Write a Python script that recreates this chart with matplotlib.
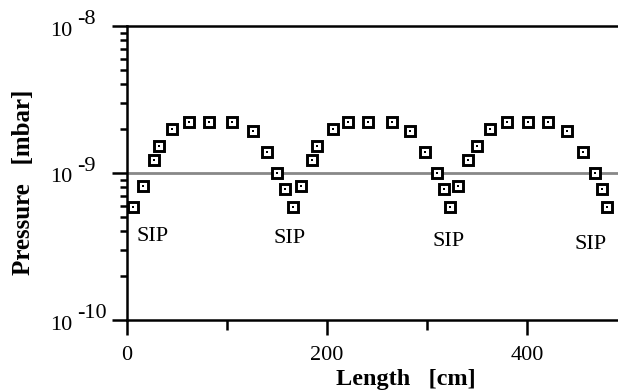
import matplotlib.pyplot as plt
import numpy as np

# readings
length_cm = [6, 16, 27, 32, 45, 62, 82, 105, 126, 140, 150, 158, 166, 174, 185, 190,
             206, 221, 241, 265, 283, 298, 310, 317, 323, 331, 341, 350, 363, 380,
             401, 421, 440, 456, 468, 475, 480]
pressure = [5.9e-10, 8.2e-10, 1.23e-9, 1.53e-9, 2.0e-9, 2.22e-9, 2.22e-9, 2.22e-9,
            1.93e-9, 1.39e-9, 1.0e-9, 7.8e-10, 5.9e-10, 8.2e-10, 1.23e-9, 1.53e-9,
            2.0e-9, 2.22e-9, 2.22e-9, 2.22e-9, 1.93e-9, 1.39e-9, 1.0e-9, 7.8e-10,
            5.9e-10, 8.2e-10, 1.23e-9, 1.53e-9, 2.0e-9, 2.22e-9, 2.22e-9, 2.22e-9,
            1.93e-9, 1.39e-9, 1.0e-9, 7.8e-10, 5.9e-10]
sip_x = [26, 163, 322, 464]
sip_y = [3.44e-10, 3.34e-10, 3.18e-10, 3.04e-10]
ref_level = 1e-9
y_exps = [-8, -9, -10]
x_ticks = [0, 200, 400]

plt.rcParams['font.family'] = ['Liberation Serif', 'DejaVu Serif']

fig = plt.figure(figsize=(6.18, 3.91), dpi=100)
ax = fig.add_axes([127/618, 71/391, 491/618, 294/391])
ax.set_yscale('log')
ax.set_xlim(0, 491)
ax.set_ylim(1e-10, 1e-8)

ax.axhline(ref_level, color='#888888', lw=2, zorder=1)
ax.plot(length_cm, pressure, ls='none', marker='s', ms=6.5, mfc='white',
        mec='black', mew=2.1, zorder=3)
ax.plot(length_cm, pressure, ls='none', marker='s', ms=1.8, mfc='black',
        mec='black', mew=0, zorder=4)

for x, y in zip(sip_x, sip_y):
    ax.text(x, y, 'SIP', ha='center', va='baseline', fontsize=16)

for side in ['left', 'bottom', 'top']:
    ax.spines[side].set_linewidth(1.8)
ax.spines['right'].set_visible(False)

ax.set_xticks(x_ticks)
ax.set_xticklabels([str(v) for v in x_ticks], fontsize=16)
ax.set_xticks([100, 300], minor=True)
ax.tick_params(axis='x', which='major', length=11, width=1.8, pad=8)
ax.tick_params(axis='x', which='minor', length=7, width=1.8)
ax.tick_params(axis='y', which='major', length=11, width=1.8)
ax.tick_params(axis='y', which='minor', length=5, width=1.8)
ax.set_yticklabels([], minor=True)
ax.set_yticks([10.0**e for e in y_exps])
ax.set_yticklabels([])

# "10" and its raised exponent, same size as in the original
tr = ax.get_yaxis_transform()
for e in y_exps:
    ax.text(-77/491, 10.0**e * 10**(-9.5/147), '10', transform=tr,
            ha='left', va='baseline', fontsize=16)
    ax.text(-50/491, 10.0**e * 10**(2/147), str(e), transform=tr,
            ha='left', va='baseline', fontsize=16)

fig.text(406/618, 1 - 384.5/391, 'Length   [cm]', ha='center', va='baseline',
         fontsize=17.5, fontweight='bold')
fig.text(30/618, 1 - 182.5/391, 'Pressure   [mbar]', ha='center', va='baseline',
         fontsize=18, fontweight='bold', rotation=90, rotation_mode='anchor')

fig.savefig('out.png', dpi=100)
